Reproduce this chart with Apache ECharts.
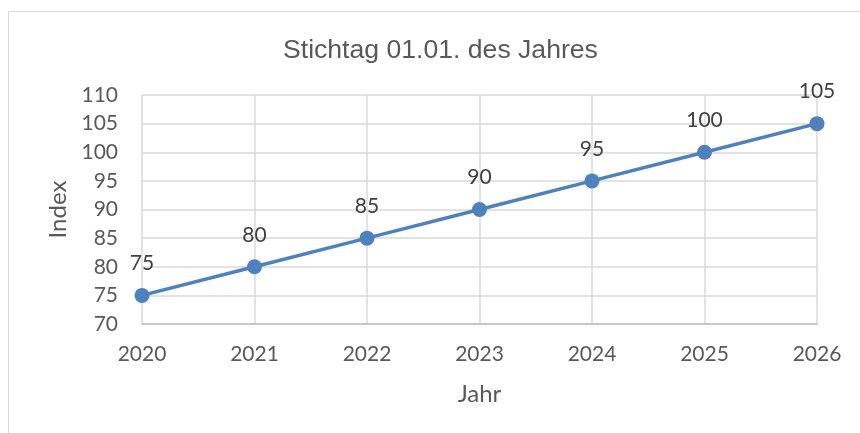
<!DOCTYPE html>
<html>
<head>
<meta charset="utf-8">
<script src="https://cdn.jsdelivr.net/npm/echarts@6/dist/echarts.min.js"></script>
<style>html,body{margin:0;padding:0;background:#fff}#c{width:860px;height:433px}</style>
</head>
<body>
<div id="c"></div>
<script>
const years = ['2020','2021','2022','2023','2024','2025','2026'];
const indexValues = [75, 80, 85, 90, 95, 100, 105];
const titleText = 'Stichtag 01.01. des Jahres';
const xName = 'Jahr';
const yName = 'Index';

const chart = echarts.init(document.getElementById('c'), null, {renderer: 'canvas'});
const lab = 'Lato, "Open Sans", sans-serif';
chart.setOption({
  animation: false,
  backgroundColor: '#ffffff',
  graphic: [{
    type: 'rect', silent: true, z: -1,
    shape: {x: 8.5, y: 11.5, width: 1000, height: 600},
    style: {fill: 'none', stroke: '#d9d9d9', lineWidth: 1}
  }],
  title: {
    text: titleText, left: 278, top: 32,
    textStyle: {fontFamily: '"Liberation Sans", Arial, sans-serif', fontSize: 26.6, fontWeight: 'normal', color: '#595959'}
  },
  grid: {left: 142, right: 43, top: 95, bottom: 109},
  xAxis: {
    type: 'category', data: years, boundaryGap: false,
    name: xName, nameLocation: 'middle', nameGap: 58,
    nameTextStyle: {fontFamily: lab, fontSize: 24, color: '#595959'},
    axisLine: {show: true, lineStyle: {color: '#bfbfbf', width: 1.5}},
    axisTick: {show: false},
    axisLabel: {fontFamily: lab, fontSize: 21, color: '#595959', margin: 20},
    splitLine: {show: true, lineStyle: {color: '#d9d9d9', width: 1.5}}
  },
  yAxis: {
    type: 'value', min: 70, max: 110, interval: 5,
    name: yName, nameLocation: 'middle', nameGap: 72, nameRotate: 90,
    nameTextStyle: {fontFamily: lab, fontSize: 24, color: '#595959'},
    axisLine: {show: false}, axisTick: {show: false},
    axisLabel: {fontFamily: lab, fontSize: 21, color: '#595959', margin: 24},
    splitLine: {show: true, lineStyle: {color: '#d9d9d9', width: 1.5}}
  },
  series: [{
    type: 'line', data: indexValues,
    symbol: 'circle', symbolSize: 15,
    lineStyle: {color: '#4f81bd', width: 3.5},
    itemStyle: {color: '#4f81bd'},
    label: {show: true, position: 'top', distance: 14, fontFamily: lab, fontSize: 21, color: '#404040'}
  }]
});
</script>
</body>
</html>
